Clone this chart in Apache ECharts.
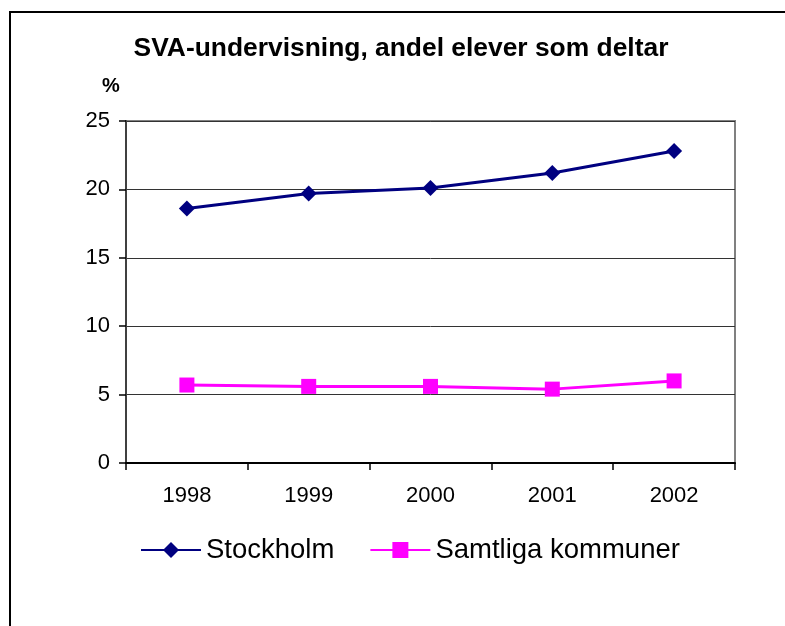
<!DOCTYPE html>
<html>
<head>
<meta charset="utf-8">
<script src="https://cdn.jsdelivr.net/npm/echarts@6/dist/echarts.min.js"></script>
<style>
html,body{margin:0;padding:0;background:#fff;}
#c{width:785px;height:626px;}
</style>
</head>
<body>
<div id="c"></div>
<script>
const years = ['1998', '1999', '2000', '2001', '2002'];
const stockholm = [18.6, 19.7, 20.1, 21.2, 22.8];
const samtliga = [5.7, 5.6, 5.6, 5.4, 6.0];
const yTicks = { min: 0, max: 25, interval: 5 };
const titleText = 'SVA-undervisning, andel elever som deltar';
const unitText = '%';

const FONT = 'Liberation Sans, Arial, sans-serif';
const chart = echarts.init(document.getElementById('c'), null, { renderer: 'canvas' });
chart.setOption({
  backgroundColor: '#fff',
  animation: false,
  graphic: [
    { type: 'rect', shape: { x: 10, y: 12, width: 790, height: 630 }, style: { fill: 'none', stroke: '#000', lineWidth: 2 }, silent: true },
    { type: 'text', x: 401, y: 49, style: { text: titleText, fontFamily: FONT, fontSize: 26.4, fontWeight: 'bold', fill: '#000', textAlign: 'center', textVerticalAlign: 'middle' } },
    { type: 'text', x: 111, y: 86, style: { text: unitText, fontFamily: FONT, fontSize: 20, fontWeight: 'bold', fill: '#000', textAlign: 'center', textVerticalAlign: 'middle' } }
  ],
  grid: { left: 126, right: 50, top: 121, bottom: 163, show: true, borderColor: '#808080', borderWidth: 2, backgroundColor: 'transparent' },
  legend: {
    left: 135, top: 531, itemWidth: 60, itemHeight: 20, itemGap: 35,
    textStyle: { fontFamily: FONT, fontSize: 27.5, color: '#000' },
    data: ['Stockholm', 'Samtliga kommuner']
  },
  xAxis: {
    type: 'category', data: years, boundaryGap: true,
    axisLine: { lineStyle: { color: '#000', width: 2 } },
    axisTick: { show: true, length: 7, lineStyle: { color: '#000', width: 1.5 } },
    axisLabel: { fontFamily: FONT, fontSize: 22, color: '#000', margin: 22 },
    splitLine: { show: false }
  },
  yAxis: {
    type: 'value', min: yTicks.min, max: yTicks.max, interval: yTicks.interval,
    axisLine: { show: true, lineStyle: { color: '#404040', width: 2 } },
    axisTick: { show: true, length: 7, lineStyle: { color: '#000', width: 1.5 } },
    axisLabel: { fontFamily: FONT, fontSize: 22, color: '#000', margin: 16 },
    splitLine: { show: true, lineStyle: { color: '#333', width: 1 } }
  },
  series: [
    { name: 'Stockholm', type: 'line', data: stockholm, symbol: 'diamond', symbolSize: 16,
      lineStyle: { color: '#000080', width: 3 }, itemStyle: { color: '#000080' } },
    { name: 'Samtliga kommuner', type: 'line', data: samtliga, symbol: 'rect', symbolSize: 15,
      lineStyle: { color: '#FF00FF', width: 3 }, itemStyle: { color: '#FF00FF' } }
  ]
});
</script>
</body>
</html>
